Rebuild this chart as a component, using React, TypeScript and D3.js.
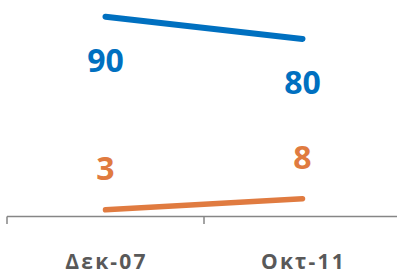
import React from "react";
import * as d3 from "d3";

const categories = ["Δεκ-07", "Οκτ-11"];
const seriesBlue = [90, 80];
const seriesOrange = [3, 8];

const W = 397, H = 273;

export default function App() {
  const x = d3.scaleBand<string>().domain(categories).range([7, 401]);
  const y = d3.scaleLinear().domain([0, 100]).range([216.5, -5.5]);
  const cx = (c: string) => (x(c) as number) + x.bandwidth() / 2;
  const line = d3.line<number>().x((_, i) => cx(categories[i])).y((d) => y(d));
  const font = "'Open Sans', sans-serif";
  const tickXs = [7, ...categories.map((c) => (x(c) as number) + x.bandwidth())];
  return (
    <svg width={W} height={H} style={{ position: "absolute", left: 0, top: 0 }}>
      <line x1={7} x2={W} y1={216.5} y2={216.5} stroke="#868686" strokeWidth={1.5} />
      {tickXs.map((t, i) => (
        <line key={i} x1={t} x2={t} y1={216.5} y2={224} stroke="#868686" strokeWidth={1.5} />
      ))}
      <path d={line(seriesBlue) || ""} fill="none" stroke="#0070C0" strokeWidth={6} strokeLinecap="round" />
      <path d={line(seriesOrange) || ""} fill="none" stroke="#E07B40" strokeWidth={5.5} strokeLinecap="round" />
      {seriesBlue.map((v, i) => (
        <text key={"b" + i} x={cx(categories[i])} y={y(v) + 55.5} textAnchor="middle" fontFamily={font} fontWeight={700} fontSize={32} fill="#0070C0">{v}</text>
      ))}
      {seriesOrange.map((v, i) => (
        <text key={"o" + i} x={cx(categories[i])} y={y(v) - 30} textAnchor="middle" fontFamily={font} fontWeight={700} fontSize={32} fill="#E07B40">{v}</text>
      ))}
      {categories.map((c) => (
        <text key={c} x={cx(c) + 1} y={268.5} textAnchor="middle" fontFamily={font} fontWeight={700} fontSize={21} letterSpacing={2.2} fill="#595959">{c}</text>
      ))}
    </svg>
  );
}
